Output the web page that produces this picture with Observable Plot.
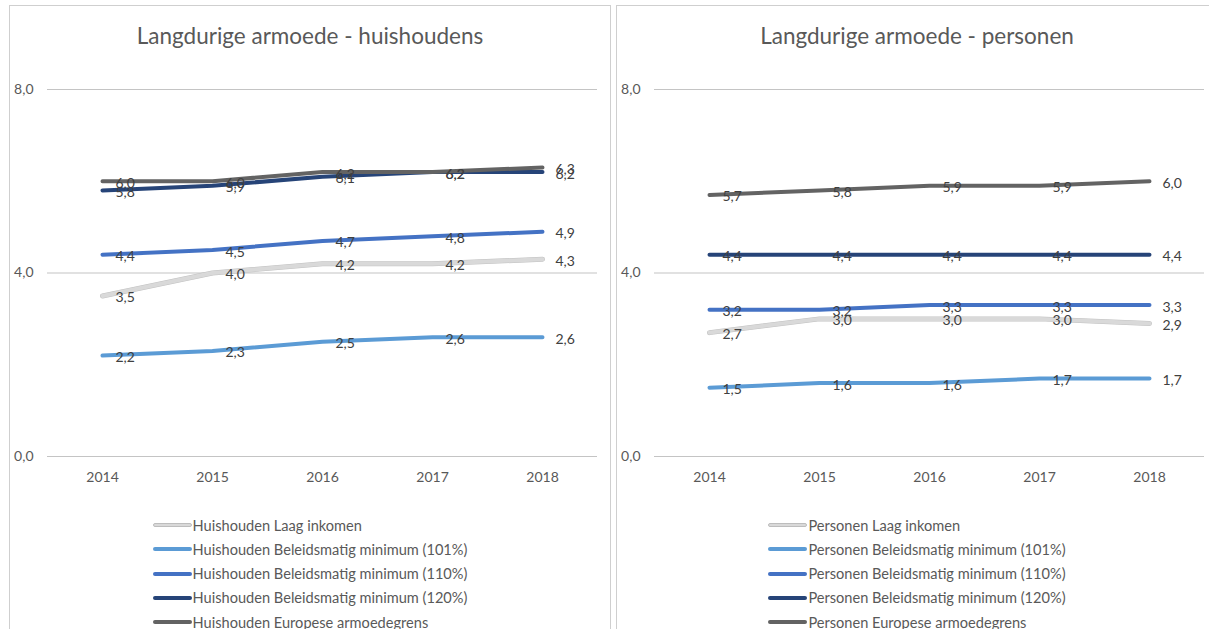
<!DOCTYPE html>
<html><head><meta charset="utf-8">
<script src="https://cdn.jsdelivr.net/npm/d3@7"></script>
<script src="https://cdn.jsdelivr.net/npm/@observablehq/plot@0.6"></script>
<style>
body{margin:0;width:1209px;height:629px;overflow:hidden;background:#fff;font-family:Lato,"Open Sans",sans-serif;position:relative}
.panel{position:absolute;top:5px;height:700px;border:1px solid #cfcfcf;box-sizing:border-box;background:#fff}
.title{position:absolute;left:0;right:0;top:17px;text-align:center;font-size:22.5px;line-height:26px;color:#595959}
.chart{position:absolute;left:0;top:0}
.legend{position:absolute;left:0;right:0;top:507px;display:flex;justify-content:center}
.legbox{display:flex;flex-direction:column;align-items:flex-start}
.leg{display:flex;align-items:center;height:24.25px;font-size:14.6px;color:#595959;white-space:nowrap}
.sw{width:39px;height:4px;border-radius:2px;margin-right:1px;box-sizing:border-box}
</style></head><body>
<div id="left" class="panel" style="left:9px;width:602px"></div>
<div id="right" class="panel" style="left:616px;width:602px"></div>
<script>
const years = ["2014", "2015", "2016", "2017", "2018"];
const seriesKeys = ["Laag inkomen", "Beleidsmatig minimum (101%)", "Beleidsmatig minimum (110%)", "Beleidsmatig minimum (120%)", "Europese armoedegrens"];
const seriesColors = ["#d9d9d9", "#5b9bd5", "#4472c4", "#264478", "#636363"];
const yTicks = [0, 4, 8];

// Huishoudens
const hhLaagInkomen = [3.5, 4.0, 4.2, 4.2, 4.3];
const hhMinimum101 = [2.2, 2.3, 2.5, 2.6, 2.6];
const hhMinimum110 = [4.4, 4.5, 4.7, 4.8, 4.9];
const hhMinimum120 = [5.8, 5.9, 6.1, 6.2, 6.2];
const hhEuropese = [6.0, 6.0, 6.2, 6.2, 6.3];

// Personen
const psLaagInkomen = [2.7, 3.0, 3.0, 3.0, 2.9];
const psMinimum101 = [1.5, 1.6, 1.6, 1.7, 1.7];
const psMinimum110 = [3.2, 3.2, 3.3, 3.3, 3.3];
const psMinimum120 = [4.4, 4.4, 4.4, 4.4, 4.4];
const psEuropese = [5.7, 5.8, 5.9, 5.9, 6.0];

const fmt = v => v.toFixed(1).replace(".", ",");

function build(lists) {
  const rows = [];
  lists.forEach((vals, i) => vals.forEach((v, j) => rows.push({series: seriesKeys[i], year: years[j], value: v})));
  return rows;
}

function drawPanel(el, title, prefix, lists) {
  const data = build(lists);
  const t = document.createElement("div");
  t.className = "title"; t.textContent = title;
  el.appendChild(t);

  const chart = Plot.plot({
    width: 600, height: 494,
    marginLeft: 37, marginRight: 13, marginTop: 83, marginBottom: 44,
    style: {fontFamily: "Lato, 'Open Sans', sans-serif", fontSize: "14px", color: "#595959", background: "transparent", overflow: "visible"},
    x: {type: "point", domain: years, padding: 0.5, label: null},
    y: {domain: [0, 8], ticks: yTicks, label: null},
    color: {domain: seriesKeys, range: seriesColors},
    marks: [
      Plot.ruleY(yTicks, {stroke: "#c4c4c4", strokeWidth: 1.2}),
      Plot.axisY(yTicks, {tickSize: 0, tickPadding: 14, tickFormat: fmt, fill: "#595959", label: null}),
      Plot.axisX({tickSize: 0, tickPadding: 16, fill: "#595959", label: null}),
      Plot.line(data.filter(d => d.series === seriesKeys[0]), {x: "year", y: "value", stroke: "#c2c2c2", strokeWidth: 5, strokeLinecap: "round", strokeLinejoin: "round"}),
      Plot.line(data, {x: "year", y: "value", z: "series", stroke: "series", strokeWidth: 4, strokeLinecap: "round", strokeLinejoin: "round"}),
      Plot.text(data, {x: "year", y: "value", text: d => fmt(d.value), dx: 13, dy: 2, textAnchor: "start", fill: "#404040", fontSize: 14})
    ]
  });
  chart.classList.add("chart");
  el.appendChild(chart);

  const lg = document.createElement("div"); lg.className = "legend";
  const box = document.createElement("div"); box.className = "legbox";
  seriesKeys.forEach((k, i) => {
    const row = document.createElement("div"); row.className = "leg";
    const sw = document.createElement("div"); sw.className = "sw";
    sw.style.background = seriesColors[i];
    if (i === 0) sw.style.border = "1px solid #bdbdbd";
    const tx = document.createElement("span"); tx.textContent = prefix + " " + k;
    row.appendChild(sw); row.appendChild(tx); box.appendChild(row);
  });
  lg.appendChild(box); el.appendChild(lg);
}

drawPanel(document.getElementById("left"), "Langdurige armoede - huishoudens", "Huishouden",
  [hhLaagInkomen, hhMinimum101, hhMinimum110, hhMinimum120, hhEuropese]);
drawPanel(document.getElementById("right"), "Langdurige armoede - personen", "Personen",
  [psLaagInkomen, psMinimum101, psMinimum110, psMinimum120, psEuropese]);
</script>
</body></html>
